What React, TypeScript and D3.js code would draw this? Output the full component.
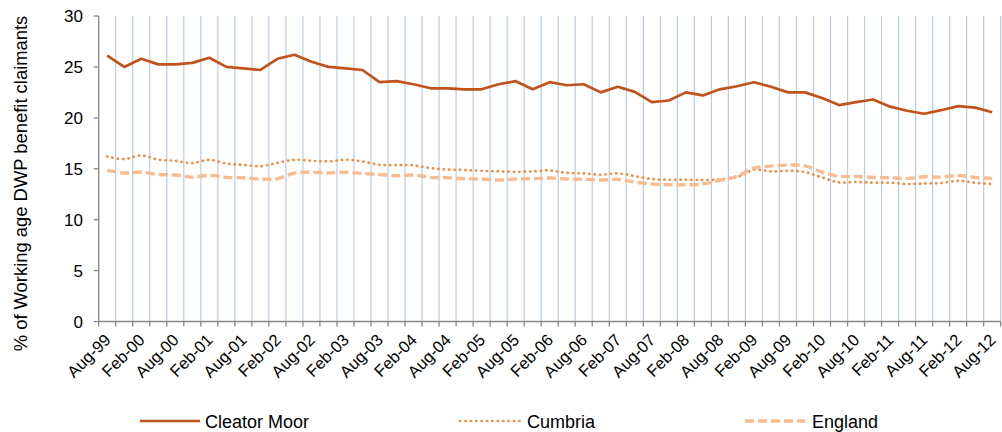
import React from "react";
import * as d3 from "d3";

const categories: string[] = [
  "Aug-99", "Nov-99", "Feb-00", "May-00", "Aug-00", "Nov-00", "Feb-01", "May-01", "Aug-01", "Nov-01",
  "Feb-02", "May-02", "Aug-02", "Nov-02", "Feb-03", "May-03", "Aug-03", "Nov-03", "Feb-04", "May-04",
  "Aug-04", "Nov-04", "Feb-05", "May-05", "Aug-05", "Nov-05", "Feb-06", "May-06", "Aug-06", "Nov-06",
  "Feb-07", "May-07", "Aug-07", "Nov-07", "Feb-08", "May-08", "Aug-08", "Nov-08", "Feb-09", "May-09",
  "Aug-09", "Nov-09", "Feb-10", "May-10", "Aug-10", "Nov-10", "Feb-11", "May-11", "Aug-11", "Nov-11",
  "Feb-12", "May-12", "Aug-12",
];

const cleatorMoor = [
  26.1, 25.0, 25.8, 25.25, 25.25, 25.4, 25.9, 25.0, 24.85, 24.7,
  25.8, 26.2, 25.5, 25.0, 24.85, 24.7, 23.5, 23.6, 23.3, 22.9,
  22.9, 22.8, 22.8, 23.3, 23.6, 22.8, 23.5, 23.2, 23.3, 22.5,
  23.05, 22.55, 21.55, 21.7, 22.5, 22.2, 22.8, 23.1, 23.5, 23.05,
  22.5, 22.5, 21.95, 21.25, 21.55, 21.8, 21.1, 20.7, 20.4, 20.75,
  21.15, 21.0, 20.55,
];
const cumbria = [
  16.2, 15.95, 16.3, 15.9, 15.78, 15.56, 15.88, 15.52, 15.38, 15.25,
  15.58, 15.88, 15.78, 15.72, 15.88, 15.72, 15.39, 15.36, 15.33, 15.06,
  14.93, 14.87, 14.8, 14.74, 14.7, 14.74, 14.83, 14.6, 14.54, 14.41,
  14.54, 14.28, 13.99, 13.92, 13.92, 13.89, 13.95, 14.18, 14.9, 14.74,
  14.8, 14.67, 14.15, 13.66, 13.7, 13.63, 13.63, 13.5, 13.56, 13.6,
  13.82, 13.63, 13.5,
];
const england = [
  14.84, 14.58, 14.67, 14.44, 14.38, 14.18, 14.35, 14.15, 14.12, 13.99,
  14.02, 14.58, 14.67, 14.58, 14.67, 14.54, 14.44, 14.31, 14.38, 14.15,
  14.12, 14.02, 13.99, 13.89, 13.99, 14.02, 14.09, 13.99, 13.96, 13.89,
  13.96, 13.69, 13.5, 13.43, 13.43, 13.5, 13.86, 14.25, 15.06, 15.26,
  15.36, 15.29, 14.67, 14.25, 14.25, 14.15, 14.12, 14.05, 14.21, 14.18,
  14.35, 14.15, 14.05,
];
const yTicks = [0, 5, 10, 15, 20, 25, 30];
const yTitle = "% of Working age DWP benefit claimants";
const seriesNames = ["Cleator Moor", "Cumbria", "England"];

const seriesStyles = [
  { color: "#C0521C", width: 2.7, dash: "", smooth: false, cap: "butt" },
  { color: "#F5883A", width: 2.7, dash: "0.1 5.3", smooth: true, cap: "round" },
  { color: "#F9BC90", width: 3.4, dash: "9 4", smooth: true, cap: "butt" },
];

export default function App() {
  const W = 1002, H = 432;
  const left = 98.7, right = 1000.7, top = 16, bottom = 321.5;
  const x = d3.scaleBand<string>().domain(categories).range([left, right]).paddingInner(0).paddingOuter(0);
  const y = d3.scaleLinear().domain([0, 30]).range([bottom, top]);
  const bw = x.bandwidth();
  const cx = (i: number) => (x(categories[i]) as number) + bw / 2;
  const font = "Arial, 'Liberation Sans', sans-serif";
  const axisColor = "#878787";
  const gridColor = "#B9CDE5";
  const seriesValues = [cleatorMoor, cumbria, england];

  const boundaries = categories.map((c) => (x(c) as number) + bw);

  const legendItems = [
    { x0: 140, x1: 200, tx: 205 },
    { x0: 460, x1: 520, tx: 527 },
    { x0: 745, x1: 805, tx: 812 },
  ];

  return (
    <svg width={W} height={H} style={{ position: "absolute", left: 0, top: 0, background: "#fff" }} fontFamily={font}>
      {boundaries.map((bx, i) => (
        <line key={"g" + i} x1={bx} x2={bx} y1={top} y2={bottom} stroke={gridColor} strokeWidth={1.2} />
      ))}
      <line x1={left} x2={left} y1={top} y2={bottom} stroke={axisColor} strokeWidth={1.3} />
      {yTicks.map((t) => (
        <g key={"y" + t}>
          <line x1={left - 5} x2={left} y1={y(t)} y2={y(t)} stroke={axisColor} strokeWidth={1.3} />
          <text x={83} y={y(t)} dy="0.36em" textAnchor="end" fontSize={17} fill="#000">{t}</text>
        </g>
      ))}
      <line x1={left} x2={right} y1={bottom} y2={bottom} stroke={axisColor} strokeWidth={1.3} />
      {[left, ...boundaries].map((bx, i) => (
        <line key={"xt" + i} x1={bx} x2={bx} y1={bottom} y2={bottom + 5} stroke={axisColor} strokeWidth={1.3} />
      ))}
      {categories.map((c, i) =>
        i % 2 === 0 ? (
          <text
            key={"xl" + i}
            transform={`translate(${cx(i) + 4.5},341) rotate(-45)`}
            textAnchor="end"
            fontSize={16.5}
            fill="#000"
          >
            {c}
          </text>
        ) : null
      )}
      <text
        transform={`translate(27,183.5) rotate(-90)`}
        textAnchor="middle"
        fontSize={18.4}
        fill="#000"
      >
        {yTitle}
      </text>
      {seriesValues.map((vals, si) => {
        const s = seriesStyles[si];
        const gen = d3
          .line<number>()
          .x((_, i) => cx(i))
          .y((v) => y(v))
          .curve(s.smooth ? d3.curveCatmullRom.alpha(0.5) : d3.curveLinear);
        return (
          <path
            key={seriesNames[si]}
            d={gen(vals) || ""}
            fill="none"
            stroke={s.color}
            strokeWidth={s.width}
            strokeDasharray={s.dash || undefined}
            strokeLinecap={s.cap as any}
            strokeLinejoin="round"
          />
        );
      })}
      {seriesNames.map((name, i) => {
        const s = seriesStyles[i];
        const li = legendItems[i];
        return (
          <g key={"lg" + i}>
            <line
              x1={li.x0}
              x2={li.x1}
              y1={421}
              y2={421}
              stroke={s.color}
              strokeWidth={s.width}
              strokeDasharray={s.dash || undefined}
              strokeLinecap={s.cap as any}
            />
            <text x={li.tx} y={428} fontSize={18} fill="#000">{name}</text>
          </g>
        );
      })}
    </svg>
  );
}
